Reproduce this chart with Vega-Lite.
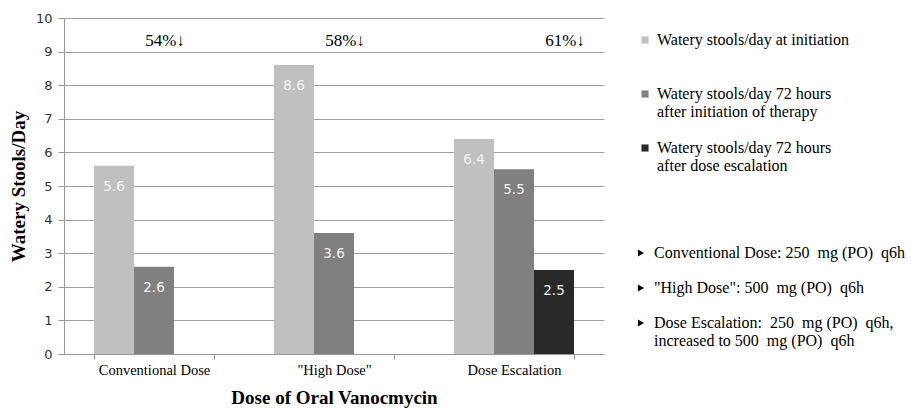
{
  "$schema": "https://vega.github.io/schema/vega-lite/v6.json",
  "width": 540,
  "height": 336,
  "autosize": {"type": "none"},
  "padding": {"left": 64, "top": 18, "right": 307, "bottom": 54},
  "background": "white",
  "config": {
    "view": {"stroke": null},
    "legend": {"labelFont": "Liberation Serif", "labelFontSize": 16, "labelColor": "#000"},
    "axisY": {
      "titleFont": "Liberation Serif", "titleFontSize": 19, "titleFontWeight": "bold", "titleColor": "#000",
      "titlePadding": 7,
      "labelFont": "DejaVu Sans", "labelFontSize": 13, "labelColor": "#333",
      "labelPadding": 6, "labelOverlap": false,
      "grid": true, "gridColor": "#a0a0a0", "tickColor": "#999", "tickSize": 6, "domainColor": "#999"
    }
  },
  "encoding": {
    "y": {
      "type": "quantitative",
      "scale": {"domain": [0, 10], "nice": false},
      "axis": {"title": "Watery Stools/Day", "values": [0,1,2,3,4,5,6,7,8,9,10]}
    }
  },
  "layer": [
    {
      "data": {"values": [
        {"group": "Conventional Dose", "series": "Watery stools/day at initiation", "value": 5.6},
        {"group": "Conventional Dose", "series": "Watery stools/day 72 hours|after initiation of therapy", "value": 2.6},
        {"group": "\"High Dose\"", "series": "Watery stools/day at initiation", "value": 8.6},
        {"group": "\"High Dose\"", "series": "Watery stools/day 72 hours|after initiation of therapy", "value": 3.6},
        {"group": "Dose Escalation", "series": "Watery stools/day at initiation", "value": 6.4},
        {"group": "Dose Escalation", "series": "Watery stools/day 72 hours|after initiation of therapy", "value": 5.5},
        {"group": "Dose Escalation", "series": "Watery stools/day 72 hours|after dose escalation", "value": 2.5}
      ]},
      "layer": [
        {
          "mark": {"type": "bar"},
          "encoding": {
            "x": {
              "field": "group", "type": "nominal", "sort": null,
              "scale": {"paddingInner": 0.3333, "paddingOuter": 0.16667},
              "axis": {
                "title": "Dose of Oral Vanocmycin",
                "titleFont": "Liberation Serif", "titleFontSize": 19, "titleFontWeight": "bold", "titleColor": "#000",
                "titlePadding": 12,
                "labelFont": "Liberation Serif", "labelFontSize": 14.5, "labelColor": "#000", "labelAngle": 0,
                "labelPadding": 4,
                "tickBand": "extent", "tickSize": 5, "tickColor": "#999", "domainColor": "#999"
              }
            },
            "xOffset": {
              "field": "series", "type": "nominal",
              "scale": {"domain": ["Watery stools/day at initiation", "Watery stools/day 72 hours|after initiation of therapy", "Watery stools/day 72 hours|after dose escalation"], "paddingInner": 0, "paddingOuter": 0}
            },
            "y": {"field": "value", "type": "quantitative"},
            "color": {
              "field": "series", "type": "nominal",
              "scale": {
                "domain": ["Watery stools/day at initiation", "Watery stools/day 72 hours|after initiation of therapy", "Watery stools/day 72 hours|after dose escalation"],
                "range": ["#c0c0c0", "#808080", "#292929"]
              },
              "legend": {
                "title": null, "orient": "none", "legendX": 573, "legendY": 14, "padding": 0,
                "symbolType": "square", "symbolSize": 50, "symbolStrokeWidth": 0,
                "labelFont": "Liberation Serif", "labelFontSize": 16, "labelColor": "#000", "labelLineHeight": 18,
                "labelLimit": 400, "labelOffset": 4, "rowPadding": 20,
                "labelExpr": "split(datum.label + (indexof(datum.label, '|') < 0 ? '| ' : ''), '|')"
              }
            }
          }
        },
        {
          "mark": {"type": "text", "baseline": "middle", "dy": 21, "color": "#f2f2f2", "font": "DejaVu Sans", "fontSize": 13.5},
          "encoding": {
            "x": {"field": "group", "type": "nominal", "sort": null},
            "xOffset": {"field": "series", "type": "nominal"},
            "y": {"field": "value", "type": "quantitative"},
            "text": {"field": "value", "type": "quantitative", "format": ".1f"}
          }
        }
      ]
    },
    {
      "data": {"values": [
        {"group": "Conventional Dose", "series": "Watery stools/day 72 hours|after initiation of therapy", "label": "54%↓", "pos": 9.32},
        {"group": "\"High Dose\"", "series": "Watery stools/day 72 hours|after initiation of therapy", "label": "58%↓", "pos": 9.32},
        {"group": "Dose Escalation", "series": "Watery stools/day 72 hours|after dose escalation", "label": "61%↓", "pos": 9.32}
      ]},
      "mark": {"type": "text", "baseline": "middle", "dx": 11, "color": "#000", "font": "Liberation Serif", "fontSize": 17},
      "encoding": {
        "x": {"field": "group", "type": "nominal", "sort": null},
        "xOffset": {"field": "series", "type": "nominal"},
        "y": {"field": "pos", "type": "quantitative"},
        "text": {"field": "label"}
      }
    },
    {
      "data": {"values": [
        {"note": "Conventional Dose: 250\u00a0 mg (PO)\u00a0 q6h"},
        {"note": "\"High Dose\": 500\u00a0 mg (PO)\u00a0 q6h"},
        {"note": "Dose Escalation:\u00a0 250\u00a0 mg (PO)\u00a0 q6h,|increased to 500\u00a0 mg (PO)\u00a0 q6h"}
      ]},
      "mark": {"type": "point", "filled": true, "opacity": 0, "color": "#000"},
      "encoding": {
        "y": null,
        "shape": {
          "field": "note", "type": "nominal",
          "scale": {"domain": ["Conventional Dose: 250\u00a0 mg (PO)\u00a0 q6h", "\"High Dose\": 500\u00a0 mg (PO)\u00a0 q6h", "Dose Escalation:\u00a0 250\u00a0 mg (PO)\u00a0 q6h,|increased to 500\u00a0 mg (PO)\u00a0 q6h"], "range": ["triangle-right", "triangle-right", "triangle-right"]},
          "legend": {
            "title": null, "orient": "none", "legendX": 569, "legendY": 227, "padding": 0,
            "symbolSize": 50, "symbolOpacity": 1, "symbolFillColor": "#000", "symbolStrokeWidth": 0,
            "labelFont": "Liberation Serif", "labelFontSize": 16, "labelColor": "#000", "labelLineHeight": 19,
            "labelLimit": 400, "labelOffset": 5, "rowPadding": 19,
            "labelExpr": "split(datum.label, '|')"
          }
        }
      }
    }
  ]
}
